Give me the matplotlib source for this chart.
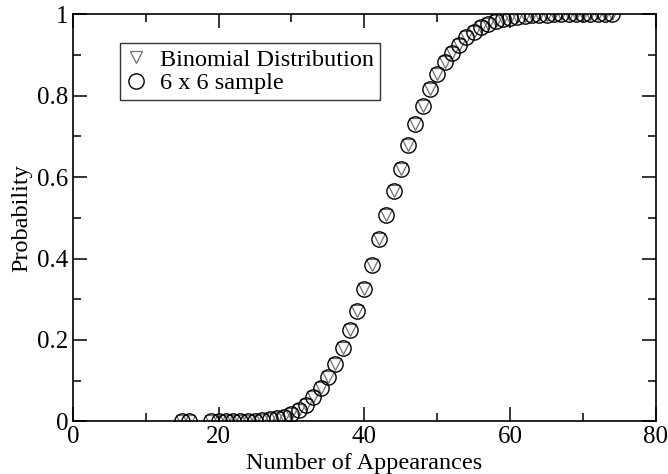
import matplotlib
matplotlib.use("Agg")
import matplotlib.pyplot as plt
from matplotlib.ticker import MultipleLocator

plt.rcParams["font.family"] = ["Liberation Serif", "DejaVu Serif"]

# number of appearances and cumulative probability
appearances = [15, 16] + list(range(19, 75))
binomial = [
    0.0, 0.0,
    0.0, 0.0, 0.0, 0.0005, 0.001, 0.0015, 0.002, 0.003, 0.005, 0.008,
    0.012, 0.018, 0.027, 0.040, 0.060, 0.083, 0.110, 0.142, 0.180, 0.224,
    0.271, 0.324, 0.385, 0.449, 0.506, 0.566, 0.621, 0.678, 0.730, 0.775,
    0.817, 0.852, 0.883, 0.905, 0.925, 0.943, 0.956, 0.968, 0.977, 0.983,
    0.988, 0.991, 0.994, 0.996, 0.997, 0.998, 0.999, 1.0, 1.0, 1.0,
    1.0, 1.0, 1.0, 1.0, 1.0, 1.0,
]
sample = list(binomial)

fig = plt.figure(figsize=(6.68, 4.74), dpi=100)
ax = fig.add_axes([0.109, 0.111, 0.873, 0.859])

ax.plot(appearances, binomial, linestyle="none", marker="v", markersize=8,
        markerfacecolor="none", markeredgecolor="#707070", markeredgewidth=0.9,
        label="Binomial Distribution")
ax.plot(appearances, sample, linestyle="none", marker="o", markersize=11,
        markerfacecolor="none", markeredgecolor="black", markeredgewidth=1.0,
        label="6 x 6 sample")

ax.set_xlim(0, 80)
ax.set_ylim(0, 1)
ax.xaxis.set_major_locator(MultipleLocator(20))
ax.xaxis.set_minor_locator(MultipleLocator(10))
ax.yaxis.set_minor_locator(MultipleLocator(0.1))
ax.set_yticks([0, 0.2, 0.4, 0.6, 0.8, 1.0])
ax.set_yticklabels(["0", "0.2", "0.4", "0.6", "0.8", "1"])

ax.tick_params(which="both", direction="in", top=True, right=True,
               labelsize=18, width=1.1)
ax.tick_params(which="major", length=10, pad=3)
ax.tick_params(which="minor", length=6)
for s in ax.spines.values():
    s.set_linewidth(1.2)

ax.set_xlabel("Number of Appearances", fontsize=17.5, labelpad=4)
ax.set_ylabel("Probability", fontsize=17.5, labelpad=4)

leg = ax.legend(loc="upper left", bbox_to_anchor=(0.081, 0.93), fontsize=17.5,
                frameon=True, fancybox=False, edgecolor="black",
                handlelength=0.8, handletextpad=0.6, borderpad=0.25,
                labelspacing=0.05, borderaxespad=0)
leg.get_frame().set_linewidth(1.0)

fig.savefig("out.png", dpi=100)
